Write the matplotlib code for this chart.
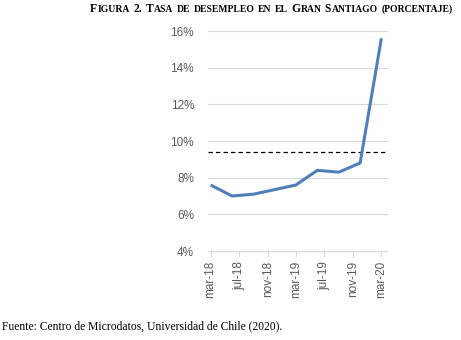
import matplotlib
matplotlib.use("Agg")
import matplotlib.pyplot as plt
import pandas as pd

# Quarterly unemployment rate, Gran Santiago (%)
periods = ["2018-03", "2018-06", "2018-09", "2018-12", "2019-03",
           "2019-06", "2019-09", "2019-12", "2020-03"]
rates = [7.6, 7.0, 7.1, 7.35, 7.6, 8.4, 8.3, 8.8, 15.6]
reference_level = 9.42

tick_dates = ["2018-03", "2018-07", "2018-11", "2019-03", "2019-07", "2019-11", "2020-03"]
tick_labels = ["mar-18", "jul-18", "nov-18", "mar-19", "jul-19", "nov-19", "mar-20"]
y_ticks = [4, 6, 8, 10, 12, 14, 16]

title_text = "Figura 2. Tasa de desempleo en el Gran Santiago (porcentaje)"
source_text = "Fuente: Centro de Microdatos, Universidad de Chile (2020)."

dates = pd.to_datetime(periods)
tdates = pd.to_datetime(tick_dates)

W, H = 461, 340
fig = plt.figure(figsize=(W / 100, H / 100), dpi=100)
ax = fig.add_axes([208 / W, 1 - 251 / H, (387 - 208) / W, (251 - 31) / H])

gray = "#595959"
ax.plot(dates, rates, color="#4f7fba", lw=2.2, solid_capstyle="butt", zorder=3)
ax.axhline(reference_level, color="black", lw=0.9, ls=(0, (3.5, 2.5)), zorder=2)

ax.set_ylim(4, 16)
ax.set_yticks(y_ticks)
ax.set_yticklabels([f"{v}%" for v in y_ticks])
ax.set_xlim(pd.Timestamp("2018-02-18"), pd.Timestamp("2020-03-25"))
ax.set_xticks(tdates)
ax.set_xticklabels(tick_labels, rotation=90)

ax.grid(axis="y", color="#d9d9d9", lw=0.8, zorder=0)
for gl in ax.get_ygridlines():
    gl.set_clip_on(False)
for s in ("left", "right", "top"):
    ax.spines[s].set_visible(False)
ax.spines["bottom"].set_color("#d9d9d9")
ax.spines["bottom"].set_linewidth(0.8)

ax.tick_params(axis="y", length=0, pad=10, labelsize=8.5, labelcolor=gray)
ax.tick_params(axis="x", length=4, width=0.8, color="#d9d9d9", direction="out",
               pad=3, labelsize=8.5, labelcolor=gray)
for lab in ax.get_xticklabels() + ax.get_yticklabels():
    lab.set_fontfamily("Liberation Sans")

# Small-caps title: runs of two sizes placed side by side on a common baseline
big, small = 8.4, 6.95
space_px = 3.2
runs = []
for ch in title_text:
    if ch == " ":
        runs.append([" ", None])
        continue
    is_small = ch.islower() or ch in "()"
    c = ch.upper() if is_small else ch
    if runs and runs[-1][1] == is_small:
        runs[-1][0] += c
    else:
        runs.append([c, is_small])

renderer = fig.canvas.get_renderer()
x_px = 90.0
baseline_px = H - 12.0
for txt, is_small in runs:
    if is_small is None:
        x_px += space_px
        continue
    t = fig.text(x_px / W, baseline_px / H, txt, family="Liberation Serif", weight="bold",
                 size=(small if is_small else big), ha="left", va="baseline", color="black")
    x_px += t.get_window_extent(renderer).width + 0.3

fig.text(2 / W, 1 - 326 / H, source_text, family="Liberation Serif", size=8.4,
         ha="left", va="center", color="black")

fig.savefig("out.png", dpi=100)
